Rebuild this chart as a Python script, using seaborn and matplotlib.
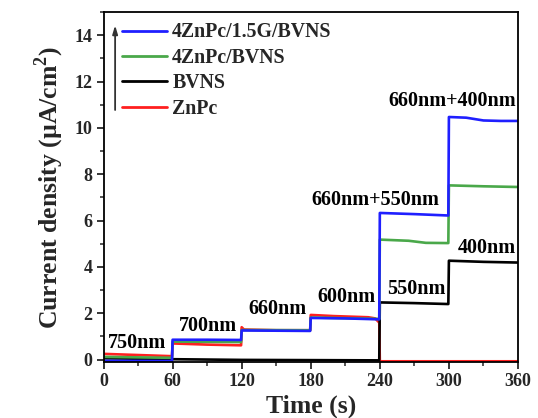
import pandas as pd
import matplotlib
matplotlib.use("Agg")
import matplotlib.pyplot as plt
from matplotlib.lines import Line2D
from matplotlib.ticker import MultipleLocator
import seaborn as sns

# Chopped-light photocurrent readings: time (s) and current density (µA/cm²)
t_zg_bvns = [0, 59.5, 60, 90, 119.5, 120, 150, 179.5, 180, 210, 239.5,
             240, 270, 299.5, 300, 315, 330, 345, 360]
j_zg_bvns = [-0.05, -0.06, 0.86, 0.86, 0.85, 1.26, 1.25, 1.24, 1.80, 1.78, 1.74,
             6.33, 6.28, 6.22, 10.47, 10.44, 10.32, 10.30, 10.30]

t_z_bvns = [0, 59.5, 60, 119.5, 120, 179.5, 180, 239.5,
            240, 265, 280, 299.5, 300, 330, 360]
j_z_bvns = [0.12, 0.08, 0.78, 0.76, 1.28, 1.27, 1.82, 1.76,
            5.18, 5.13, 5.04, 5.03, 7.52, 7.48, 7.45]

t_bvns = [0, 59.5, 60, 120, 180, 239.5, 240, 270, 299.5, 300, 330, 360]
j_bvns = [0.06, 0.02, 0.02, -0.01, -0.02, -0.03, 2.47, 2.44, 2.40, 4.27, 4.22, 4.19]

t_znpc = [0, 30, 59.5, 60, 90, 119.5, 120, 122, 150, 179.5,
          180, 200, 230, 236, 239.5, 240, 360]
j_znpc = [0.25, 0.20, 0.15, 0.70, 0.65, 0.62, 1.40, 1.30, 1.27, 1.27,
          1.93, 1.88, 1.83, 1.78, 1.60, -0.07, -0.07]

series_names = ["4ZnPc/1.5G/BVNS", "4ZnPc/BVNS", "BVNS", "ZnPc"]
series_colors = ["#1f1fff", "#4aa84a", "#000000", "#ff1f1f"]

# Illumination wavelength labels
wl_labels = ["750nm", "700nm", "660nm", "600nm", "550nm", "400nm",
             "660nm+550nm", "660nm+400nm"]
wl_x = [29, 91, 151, 211, 272, 332.6, 236, 303]
wl_y = [0.72, 1.46, 2.2, 2.7, 3.06, 4.82, 6.87, 11.15]

x_ticks = [0, 60, 120, 180, 240, 300, 360]
y_ticks = [0, 2, 4, 6, 8, 10, 12, 14]

frames = []
for name, t, j in zip(series_names,
                      [t_zg_bvns, t_z_bvns, t_bvns, t_znpc],
                      [j_zg_bvns, j_z_bvns, j_bvns, j_znpc]):
    frames.append(pd.DataFrame({"t": t, "j": j, "series": name}))
df = pd.concat(frames, ignore_index=True)

sns.set_style("ticks")
plt.rcParams["font.family"] = ["Liberation Serif", "DejaVu Serif"]
plt.rcParams["font.weight"] = "bold"
plt.rcParams["mathtext.fontset"] = "custom"
plt.rcParams["mathtext.rm"] = "Liberation Serif:bold"
plt.rcParams["mathtext.bf"] = "Liberation Serif:bold"

fig = plt.figure(figsize=(5.38, 4.18), dpi=100)
ax = fig.add_axes([0.1924, 0.134, 0.7704, 0.8373])

palette = dict(zip(series_names, series_colors))
sns.lineplot(data=df, x="t", y="j", hue="series",
             hue_order=["ZnPc", "BVNS", "4ZnPc/BVNS", "4ZnPc/1.5G/BVNS"],
             palette=palette, estimator=None, sort=False,
             linewidth=1.9, legend=False, ax=ax)

for lab, x, y in zip(wl_labels, wl_x, wl_y):
    ax.text(x, y, lab, ha="center", va="center", fontsize=14.5,
            fontweight="bold", color="black")

ax.set_xlim(0, 360)
ax.set_ylim(-0.1, 15)
ax.set_xticks(x_ticks)
ax.set_yticks(y_ticks)
ax.xaxis.set_minor_locator(MultipleLocator(30))
ax.yaxis.set_minor_locator(MultipleLocator(1))
ax.tick_params(axis="both", which="major", direction="out", length=5, width=1.3,
               labelsize=13, pad=3, top=False, right=False)
ax.tick_params(axis="both", which="minor", direction="out", length=3, width=1.1,
               top=False, right=False)
for lbl in ax.get_xticklabels() + ax.get_yticklabels():
    lbl.set_fontweight("bold")
for sp in ax.spines.values():
    sp.set_linewidth(1.3)
    sp.set_color("black")

ax.set_xlabel("Time (s)", fontsize=18.5, fontweight="bold", labelpad=3)
ax.set_ylabel("Current density (µA/cm$^{\\mathbf{2}}$)", fontsize=18.5,
              fontweight="bold", labelpad=6)

handles = [Line2D([0], [0], color=c, lw=2) for c in series_colors]
ax.legend(handles, series_names, loc="upper left", bbox_to_anchor=(0.0446, 0.970),
          frameon=False, borderpad=0, borderaxespad=0, handlelength=2.27,
          handletextpad=0.26, labelspacing=0.27,
          prop={"family": "Liberation Serif", "weight": "bold", "size": 14.3})

ax.annotate("", xy=(0.028, 0.962), xytext=(0.028, 0.72), xycoords="axes fraction",
            arrowprops=dict(arrowstyle="-|>,head_length=0.5,head_width=0.15",
                            color="#333333", lw=1.3, shrinkA=0, shrinkB=0))

fig.savefig("out.png", dpi=100)
